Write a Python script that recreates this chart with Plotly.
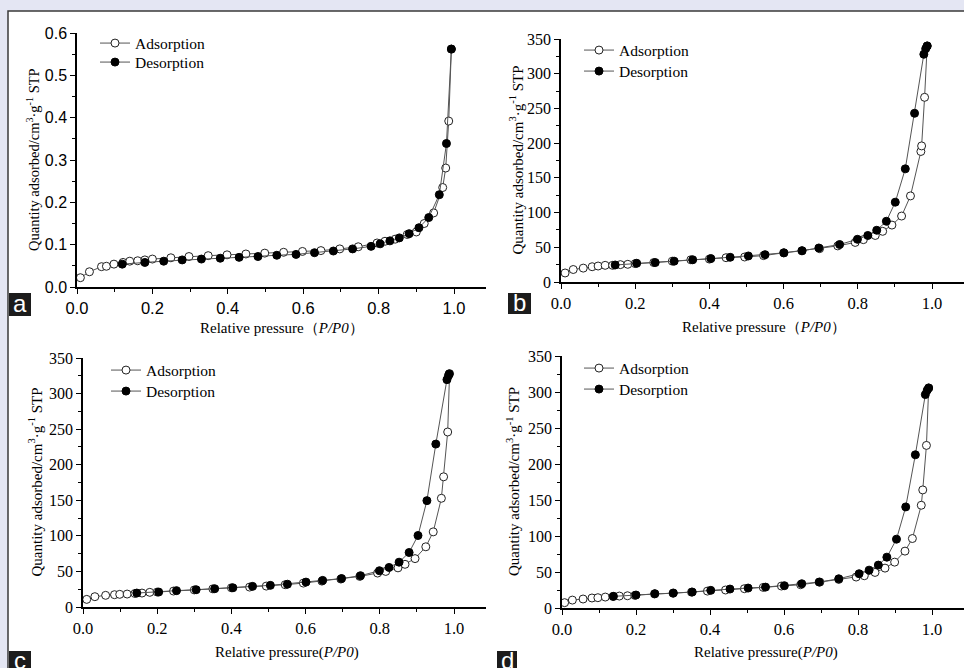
import plotly.graph_objects as go

W, H = 964, 668

# ---------------- data ----------------
a_ads_x = [0.009, 0.033, 0.065, 0.078, 0.098, 0.122, 0.140, 0.161, 0.180, 0.200, 0.249, 0.297, 0.348, 0.398, 0.448,
           0.498, 0.548, 0.598, 0.647, 0.697, 0.746, 0.796, 0.817, 0.844, 0.876, 0.900, 0.921, 0.946, 0.970, 0.978,
           0.986, 0.993]
a_ads_y = [0.022, 0.036, 0.048, 0.049, 0.054, 0.058, 0.061, 0.062, 0.064, 0.066, 0.069, 0.072, 0.074, 0.076, 0.078,
           0.080, 0.082, 0.084, 0.086, 0.090, 0.095, 0.104, 0.108, 0.113, 0.124, 0.130, 0.150, 0.175, 0.235, 0.281,
           0.392, 0.562]
a_des_x = [0.993, 0.980, 0.961, 0.933, 0.907, 0.881, 0.855, 0.830, 0.804, 0.780, 0.731, 0.680, 0.630, 0.581, 0.530,
           0.480, 0.430, 0.380, 0.330, 0.279, 0.230, 0.180, 0.120]
a_des_y = [0.562, 0.339, 0.218, 0.164, 0.140, 0.126, 0.116, 0.109, 0.102, 0.096, 0.090, 0.085, 0.081, 0.077, 0.075,
           0.072, 0.070, 0.068, 0.066, 0.064, 0.061, 0.058, 0.054]

b_ads_x = [0.011, 0.033, 0.060, 0.084, 0.100, 0.119, 0.139, 0.160, 0.180, 0.200, 0.250, 0.300, 0.350, 0.400, 0.445,
           0.495, 0.546, 0.600, 0.649, 0.697, 0.746, 0.793, 0.815, 0.847, 0.867, 0.892, 0.918, 0.942, 0.970, 0.972,
           0.980, 0.987]
b_ads_y = [13, 18, 20, 22, 23, 24, 24, 25, 25.5, 26.5, 28, 30, 32, 33, 35, 36, 38, 42, 45, 48, 52, 57, 61, 67, 73,
           82, 95, 124, 188, 196, 266, 340]
b_des_x = [0.987, 0.983, 0.978, 0.953, 0.928, 0.901, 0.877, 0.851, 0.827, 0.799, 0.751, 0.695, 0.650, 0.601, 0.550,
           0.505, 0.456, 0.404, 0.355, 0.305, 0.254, 0.204, 0.146]
b_des_y = [340, 336, 328, 243, 163, 115, 87.5, 74.5, 67, 61.5, 54, 49, 45, 42, 39.4, 37.5, 35.6, 33.7, 32, 30, 28, 27,
           24.5]

c_ads_x = [0.010, 0.032, 0.061, 0.085, 0.099, 0.119, 0.140, 0.159, 0.180, 0.200, 0.244, 0.300, 0.350, 0.400, 0.449,
           0.494, 0.545, 0.594, 0.644, 0.695, 0.746, 0.794, 0.816, 0.849, 0.868, 0.895, 0.924, 0.944, 0.966, 0.972,
           0.983, 0.988]
c_ads_y = [10.7, 14.5, 16.4, 17.3, 17.8, 18.2, 19, 19.6, 20.6, 21, 22.4, 24, 25.5, 27, 28, 29.4, 31.3, 33.6, 36.4,
           39.3, 43, 47.7, 50, 55, 60, 68, 84.6, 105.6, 152.8, 183, 246, 328]
c_des_x = [0.987, 0.985, 0.981, 0.951, 0.927, 0.903, 0.879, 0.852, 0.825, 0.799, 0.748, 0.697, 0.646, 0.601, 0.551,
           0.505, 0.457, 0.404, 0.355, 0.305, 0.252, 0.204, 0.145]
c_des_y = [327.6, 325, 319.6, 229, 149.5, 100.5, 76.6, 63, 55.6, 51, 44, 40, 37.4, 35, 32, 30.4, 29, 27, 25.7, 24.3,
           23, 21, 19.6]

d_ads_x = [0.007, 0.028, 0.057, 0.081, 0.097, 0.117, 0.138, 0.155, 0.177, 0.197, 0.250, 0.300, 0.350, 0.393, 0.442,
           0.493, 0.544, 0.593, 0.645, 0.697, 0.748, 0.795, 0.817, 0.846, 0.873, 0.899, 0.927, 0.947, 0.971, 0.975,
           0.985, 0.991]
d_ads_y = [7.4, 11, 12.5, 13.9, 14.3, 15.2, 16, 16.6, 17, 17.5, 19.5, 20.5, 22, 23.5, 25, 26.8, 28.6, 30.5, 32.3, 36,
           39.7, 43, 44.8, 49.4, 55.4, 63.7, 79, 96.5, 142.7, 164, 225.8, 305.6]
d_des_x = [0.991, 0.987, 0.982, 0.955, 0.929, 0.904, 0.878, 0.855, 0.830, 0.803, 0.748, 0.695, 0.648, 0.601, 0.550,
           0.503, 0.454, 0.402, 0.352, 0.301, 0.251, 0.200, 0.139]
d_des_y = [305.6, 302.4, 296.4, 212.8, 140.4, 95.6, 70.6, 59.6, 52.6, 47.6, 40.6, 36, 33.7, 31, 29, 27.7, 26.3, 24.5,
           22.2, 20.8, 19.9, 18, 16.2]

series_names = ["Adsorption", "Desorption"]
panel_letters = ["a", "b", "c", "d"]
y_title = "Quantity adsorbed/cm<sup>3</sup>·g<sup>-1</sup> STP"
x_titles = ["Relative pressure（<i>P/P0</i>）", "Relative pressure（<i>P/P0</i>）",
            "Relative pressure(<i>P/P0</i>)", "Relative pressure(<i>P/P0</i>)"]

# ---------------- layout helpers (pixel -> paper) ----------------
def px(x):
    return x / W


def py(y):
    return 1 - y / H


SERIF = "Liberation Serif, Times New Roman, serif"
SANS = "Liberation Sans, Arial, sans-serif"
LINE_C = "#555555"
EDGE_C = "#222222"

panels = [
    dict(xl=77, xr=486, x1=454, yt=33, yb=287, ymax=0.6, dt=0.1, mdt=0.05, fmt=".1f", font=SANS,
         data=(a_ads_x, a_ads_y, a_des_x, a_des_y), leg=(115, 43, 62), ytx=33, ytsize=14.5,
         xtx=(282, 328), box=(9, 293, 31, 316)),
    dict(xl=561, xr=964, x1=932, yt=39, yb=282, ymax=350, dt=50, mdt=25, fmt="d", font=SERIF,
         data=(b_ads_x, b_ads_y, b_des_x, b_des_y), leg=(599, 50, 71), ytx=516, ytsize=15,
         xtx=(764, 327), box=(508, 293, 531, 314)),
    dict(xl=83, xr=486, x1=454, yt=358, yb=607, ymax=350, dt=50, mdt=25, fmt="d", font=SERIF,
         data=(c_ads_x, c_ads_y, c_des_x, c_des_y), leg=(126, 370, 391), ytx=35, ytsize=15,
         xtx=(287, 652), box=(9, 651, 31, 672)),
    dict(xl=562, xr=964, x1=932, yt=356, yb=608, ymax=350, dt=50, mdt=25, fmt="d", font=SERIF,
         data=(d_ads_x, d_ads_y, d_des_x, d_des_y), leg=(599, 368, 389), ytx=513, ytsize=15,
         xtx=(766, 652), box=(497, 651, 517, 672)),
]

LEG_DX = 20    # legend left edge -> symbol centre
LEG_DY = 16.5  # legend top edge -> item centre

fig = go.Figure()
shapes = [dict(type="rect", xref="paper", yref="paper", x0=px(8), x1=1.05, y0=-0.05, y1=py(11),
               line=dict(color="#3a3a3a", width=1.5), fillcolor="white", layer="below")]
annotations = []
layout_axes = {}

for i, p in enumerate(panels):
    n = "" if i == 0 else str(i + 1)
    ax_x = "x" + n
    ax_y = "y" + n
    xmax = (p["xr"] - p["xl"]) / (p["x1"] - p["xl"])
    ads_x, ads_y, des_x, des_y = p["data"]
    styles = [
        dict(marker=dict(symbol="circle", size=8, color="white", line=dict(color=EDGE_C, width=1))),
        dict(marker=dict(symbol="circle", size=8, color="black", line=dict(color="black", width=1))),
    ]
    for j, (sx, sy) in enumerate([(ads_x, ads_y), (des_x, des_y)]):
        k = i * 2 + j + 1
        leg = "legend" if k == 1 else "legend%d" % k
        fig.add_trace(go.Scatter(
            x=sx, y=sy, mode="lines+markers", name=series_names[j], xaxis=ax_x, yaxis=ax_y, legend=leg,
            line=dict(color=LINE_C, width=1), cliponaxis=False, **styles[j]))
        layout_axes[leg] = dict(
            x=px(p["leg"][0] - LEG_DX), y=py(p["leg"][1 + j] - LEG_DY), xanchor="left", yanchor="top",
            bgcolor="rgba(0,0,0,0)", borderwidth=0,
            font=dict(family=SERIF, size=15.5, color="black"), itemwidth=30)

    xfont = dict(family=p["font"], size=16.5, color="black")
    yfont = dict(family=p["font"], size=16, color="black")
    layout_axes["xaxis" + n] = dict(
        domain=[px(p["xl"]), px(p["xr"])], range=[0, xmax], anchor=ax_y, showgrid=False, zeroline=False,
        automargin=False,
        showline=True, linecolor="black", linewidth=1.5, ticks="outside", ticklen=5, tickwidth=1.2,
        tickcolor="black", tick0=0, dtick=0.2, tickformat=".1f", tickfont=xfont,
        minor=dict(ticks="outside", ticklen=3, tickwidth=1, tickcolor="black", dtick=0.1),
        fixedrange=True)
    layout_axes["yaxis" + n] = dict(
        domain=[py(p["yb"]), py(p["yt"])], range=[0, p["ymax"]], anchor=ax_x, showgrid=False, zeroline=False,
        automargin=False,
        showline=True, linecolor="black", linewidth=1.5, ticks="outside", ticklen=5, tickwidth=1.2,
        tickcolor="black", tick0=0, dtick=p["dt"], tickformat=p["fmt"], tickfont=yfont,
        minor=dict(ticks="outside", ticklen=3, tickwidth=1, tickcolor="black", dtick=p["mdt"]),
        fixedrange=True)

    annotations.append(dict(
        text=y_title, xref="paper", yref="paper", x=px(p["ytx"]), y=py((p["yt"] + p["yb"]) / 2),
        textangle=-90, showarrow=False, xanchor="center", yanchor="middle",
        font=dict(family=SERIF, size=p["ytsize"], color="black")))
    annotations.append(dict(
        text=x_titles[i], xref="paper", yref="paper", x=px(p["xtx"][0]), y=py(p["xtx"][1]),
        showarrow=False, xanchor="center", yanchor="middle",
        font=dict(family=SERIF, size=15, color="black")))

    bx0, by0, bx1, by1 = p["box"]
    shapes.append(dict(type="rect", xref="paper", yref="paper", x0=px(bx0), x1=px(bx1), y0=py(by1), y1=py(by0),
                       line=dict(width=0), fillcolor="#1c1c1c", layer="above"))
    annotations.append(dict(
        text=panel_letters[i], xref="paper", yref="paper", x=px((bx0 + bx1) / 2), y=py((by0 + by1) / 2 - 1),
        showarrow=False, xanchor="center", yanchor="middle",
        font=dict(family=SANS, size=24, color="white")))

fig.update_layout(
    template="none",
    width=W, height=H, autosize=False,
    margin=dict(l=0, r=0, t=0, b=0, pad=0),
    paper_bgcolor="#e4e6f3", plot_bgcolor="rgba(0,0,0,0)",
    shapes=shapes, annotations=annotations, showlegend=True,
    **layout_axes)

fig.write_html("out.html",
               config={"displayModeBar": False},
               post_script="document.body.style.margin='0';document.body.style.padding='0';"
                           "document.body.style.background='#e4e6f3';")
